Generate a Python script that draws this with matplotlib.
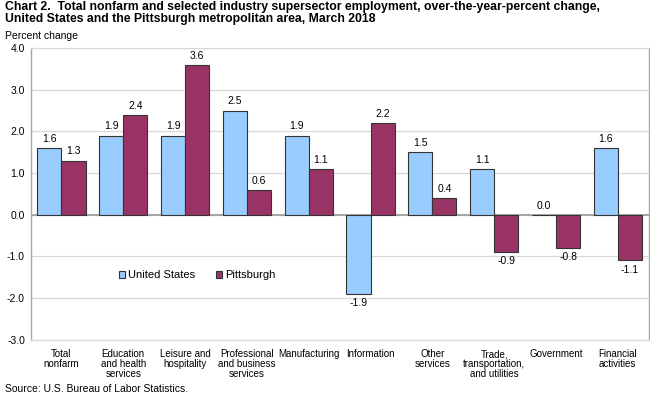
import matplotlib.pyplot as plt
import numpy as np

plt.rcParams['font.family'] = ['Liberation Sans', 'DejaVu Sans']

categories = ['Total\nnonfarm', 'Education\nand health\nservices', 'Leisure and\nhospitality',
              'Professional\nand business\nservices', 'Manufacturing', 'Information',
              'Other\nservices', 'Trade,\ntransportation,\nand utilities', 'Government',
              'Financial\nactivities']
us = [1.6, 1.9, 1.9, 2.5, 1.9, -1.9, 1.5, 1.1, 0.0, 1.6]
pitt = [1.3, 2.4, 3.6, 0.6, 1.1, 2.2, 0.4, -0.9, -0.8, -1.1]
series_names = ['United States', 'Pittsburgh']
yticks = [-3.0, -2.0, -1.0, 0.0, 1.0, 2.0, 3.0, 4.0]


def main():
    fig = plt.figure(figsize=(6.5, 3.94), dpi=100)
    ax = fig.add_axes([0.047, 0.138, 0.951, 0.740])

    x = np.arange(len(categories))
    w = 0.39
    b1 = ax.bar(x - w / 2, us, w, color='#99ccff', edgecolor='#333333', linewidth=0.8,
                label=series_names[0], zorder=3)
    b2 = ax.bar(x + w / 2, pitt, w, color='#993366', edgecolor='#333333', linewidth=0.8,
                label=series_names[1], zorder=3)

    # value labels
    for bars, vals in ((b1, us), (b2, pitt)):
        for bar, v in zip(bars, vals):
            cx = bar.get_x() + bar.get_width() / 2
            if v >= 0:
                ax.annotate('%.1f' % v, (cx, v), xytext=(0, 3), textcoords='offset points',
                            ha='center', va='bottom', fontsize=7.5)
            else:
                ax.annotate('%.1f' % v, (cx, v), xytext=(0, -3), textcoords='offset points',
                            ha='center', va='top', fontsize=7.5)

    ax.set_xlim(-0.5, len(categories) - 0.5)
    ax.set_ylim(-3.0, 4.0)
    ax.set_yticks(yticks)
    ax.set_yticklabels(['%.1f' % t for t in yticks], fontsize=7.5)
    ax.yaxis.grid(True, color='#d9d9d9', linewidth=0.9, zorder=0)
    ax.axhline(0, color='#999999', linewidth=1.2, zorder=2)
    ax.tick_params(axis='both', length=0, pad=4)
    ax.set_xticks(x)
    ax.set_xticklabels(categories, fontsize=7, linespacing=0.98, va='top')
    ax.tick_params(axis='x', pad=7)
    for s in ['left', 'right']:
        ax.spines[s].set_color('#a6a6a6')
        ax.spines[s].set_linewidth(1.0)
    for s in ['top', 'bottom']:
        ax.spines[s].set_color('#d9d9d9')
        ax.spines[s].set_linewidth(0.9)

    ax.legend(loc='upper left', bbox_to_anchor=(0.127, 0.272), ncol=2, frameon=False,
              fontsize=8, handlelength=0.55, handleheight=0.55, handletextpad=0.25,
              columnspacing=1.9)

    fig.text(0.008, 0.997, 'Chart 2.  Total nonfarm and selected industry supersector employment, '
             'over-the-year-percent change,\nUnited States and the Pittsburgh metropolitan area, '
             'March 2018', ha='left', va='top', fontsize=8.8, fontweight='bold', linespacing=1.0)
    fig.text(0.008, 0.895, 'Percent change', ha='left', va='bottom', fontsize=7.5)
    fig.text(0.008, 0.0, 'Source: U.S. Bureau of Labor Statistics.', ha='left', va='bottom',
             fontsize=7.5)

    fig.savefig('out.png', dpi=100)


main()
